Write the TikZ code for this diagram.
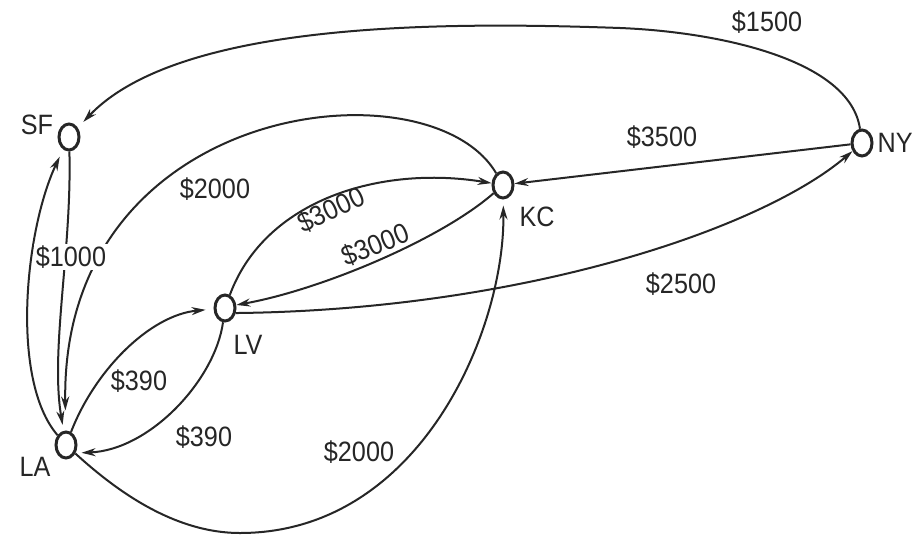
\documentclass[tikz,border=0pt]{standalone}
\usepackage{fontspec}
\newfontfamily\labfont[FakeStretch=0.9]{Liberation Sans}
\usetikzlibrary{arrows.meta,shapes.geometric}
\begin{document}
\begin{tikzpicture}[x=0.5pt,y=-0.5pt,
  city/.style={ellipse,draw=black!85,line width=1.5pt,minimum width=10pt,minimum height=13pt,inner sep=0pt},
  edge/.style={draw=black!85,line width=1pt,-{Stealth[length=7pt,width=4pt]}},
  lab/.style={text=black!85,font=\labfont\fontsize{14}{16}\selectfont,inner sep=0pt},
]
\useasboundingbox[fill=white] (0,0) rectangle (913,535);
% cities
\node[city] (SF) at (69,137) {};
\node[city] (LA) at (66,445) {};
\node[city] (LV) at (225,308) {};
\node[city] (KC) at (503,185) {};
\node[city] (NY) at (862,143) {};
% city names
\node[lab] (tSF) at (37,125) {SF};
\node[lab] (tLA) at (35,467) {LA};
\node[lab] (tLV) at (248,345) {LV};
\node[lab] (tKC) at (537,217) {KC};
\node[lab,anchor=east] (tNY) at (913,143) {NY};
% connectors
\draw[edge,shorten >=4pt] (NY) .. controls (850,60) and (720,32) .. (620,28)
      .. controls (450,22) and (180,20) .. (SF);
\draw[edge] (NY) -- (KC);
\draw[edge] (LV.-25) .. controls (520,310) and (760,230) .. (NY);
\draw[edge] (KC) .. controls (440,240) and (320,290) .. (LV.15);
\draw[edge] (LV) .. controls (265,200) and (380,165) .. (KC);
\draw[edge,shorten >=10pt] (KC) .. controls (430,60) and (60,100) .. (LA);
\draw[edge,shorten >=3pt] (SF) .. controls (72,250) and (50,350) .. (LA);
\draw[edge,shorten >=4pt] (LA) .. controls (10,380) and (25,230) .. (SF);
\draw[edge,shorten >=4pt] (LA) .. controls (95,370) and (150,315) .. (LV);
\draw[edge,shorten >=3pt] (LV) .. controls (215,380) and (150,450) .. (LA.-40);
\draw[edge,shorten >=3pt] (LA) .. controls (110,485) and (170,533) .. (240,533)
      .. controls (420,533) and (505,330) .. (KC);
% costs
\node[lab] (c1500) at (767,22) {\$1500};
\node[lab] (c3500) at (662,137) {\$3500};
\node[lab] (c2500) at (681,284) {\$2500};
\node[lab] (c2000a) at (215,189) {\$2000};
\node[lab,rotate=25] (c3000a) at (331,210) {\$3000};
\node[lab,rotate=22] (c3000b) at (375,245) {\$3000};
\node[lab,fill=white,inner sep=1pt] (c1000) at (71,257) {\$1000};
\node[lab] (c390a) at (139,381) {\$390};
\node[lab] (c390b) at (204,437) {\$390};
\node[lab] (c2000b) at (359,452) {\$2000};
\end{tikzpicture}
\end{document}
